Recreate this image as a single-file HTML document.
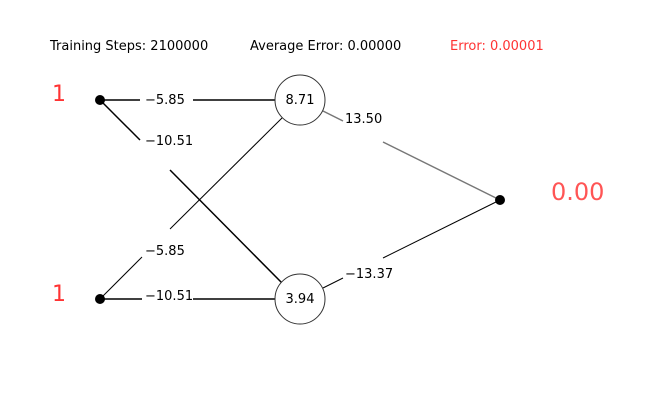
<!DOCTYPE html>
<html><head><meta charset="utf-8"><style>
body{margin:0;background:#fff}
svg{display:block}
text{font-family:"DejaVu Sans","Liberation Sans",sans-serif}
</style></head><body>
<svg width="650" height="400" viewBox="0 0 650 400">
<rect width="650" height="400" fill="#fff"/>
<g font-size="13" fill="#000">
<text x="50" y="50">Training Steps: 2100000</text>
<text x="250" y="50">Average Error: 0.00000</text>
<text x="450" y="50" fill="#ff3333">Error: 0.00001</text>
</g>
<g stroke="#000" fill="none">
<g stroke-width="1.5"><line x1="100" y1="100" x2="140" y2="100"/><line x1="193" y1="100" x2="275" y2="100"/></g>
<g stroke-width="1.5"><line x1="100" y1="100" x2="140" y2="140"/><line x1="170" y1="170" x2="282" y2="283"/></g>
<g stroke-width="1"><line x1="100" y1="299" x2="142" y2="257"/><line x1="170" y1="229" x2="283" y2="117"/></g>
<g stroke-width="1.5"><line x1="100" y1="299" x2="142" y2="299"/><line x1="193" y1="299" x2="275" y2="299"/></g>
<g stroke="#777" stroke-width="1.5"><line x1="323" y1="111" x2="343" y2="121"/><line x1="383" y1="142" x2="500" y2="200"/></g>
<g stroke-width="1"><line x1="323" y1="288" x2="343" y2="278"/><line x1="383" y1="258" x2="500" y2="200"/></g>
</g>
<g font-size="13" fill="#000">
<text x="145" y="104">−5.85</text>
<text x="145" y="145">−10.51</text>
<text x="145" y="255">−5.85</text>
<text x="145" y="300">−10.51</text>
<text x="345" y="123">13.50</text>
<text x="345" y="278">−13.37</text>
</g>
<circle cx="300" cy="100" r="25" fill="#fff" stroke="#333"/>
<circle cx="300" cy="299" r="25" fill="#fff" stroke="#333"/>
<text x="300" y="104" font-size="13" text-anchor="middle">8.71</text>
<text x="300" y="303" font-size="13" text-anchor="middle">3.94</text>
<circle cx="100" cy="100" r="5" fill="#000"/>
<circle cx="100" cy="299" r="5" fill="#000"/>
<circle cx="500" cy="200" r="5" fill="#000"/>
<text x="52" y="101" font-size="22" fill="#ff3333">1</text>
<text x="52" y="301" font-size="22" fill="#ff3333">1</text>
<text x="551" y="200" font-size="24" fill="#ff5555">0.00</text>
</svg>
</body></html>
